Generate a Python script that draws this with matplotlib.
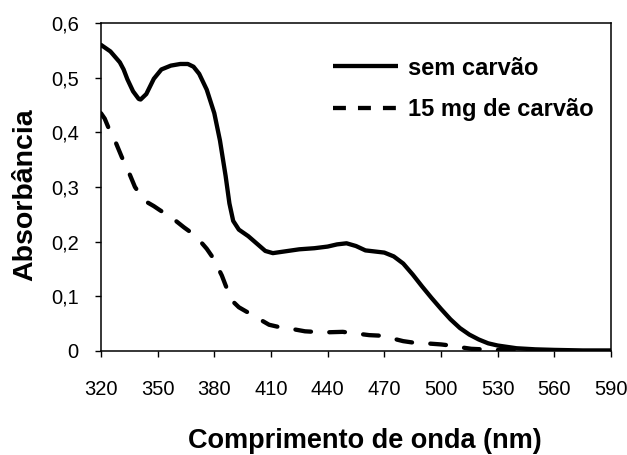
import matplotlib
matplotlib.use("Agg")
import matplotlib.pyplot as plt
from matplotlib.lines import Line2D
from matplotlib.ticker import FuncFormatter

plt.rcParams['font.family'] = ['Liberation Sans', 'DejaVu Sans']

# espectro sem carvão
nm_sem = [320, 325, 330, 332, 334, 337, 340, 341, 344, 348, 352, 357, 362, 366,
          369, 372, 376, 380, 383, 386, 388, 390, 393, 398, 403, 407, 411, 417,
          425, 433, 440, 445, 450, 455, 460, 465, 470, 475, 480, 485, 490, 495,
          500, 505, 510, 515, 520, 525, 530, 540, 550, 560, 575, 590]
abs_sem = [0.560, 0.548, 0.528, 0.515, 0.497, 0.475, 0.461, 0.460, 0.470, 0.498,
           0.515, 0.522, 0.525, 0.525, 0.520, 0.507, 0.478, 0.435, 0.385, 0.320,
           0.270, 0.238, 0.222, 0.210, 0.195, 0.183, 0.179, 0.182, 0.186, 0.188,
           0.191, 0.195, 0.197, 0.192, 0.184, 0.182, 0.180, 0.173, 0.160, 0.140,
           0.118, 0.097, 0.077, 0.058, 0.042, 0.030, 0.021, 0.014, 0.010, 0.005,
           0.003, 0.002, 0.001, 0.001]

# espectro com 15 mg de carvão
nm_15 = [320, 322, 325, 328, 331, 335, 338, 341, 344, 348, 351, 356, 360, 364,
         368, 372, 376, 379, 382, 384, 386, 388, 390, 393, 397, 401, 405, 409,
         414, 420, 428, 438, 448, 455, 462, 468, 473, 480, 486, 492, 500, 505,
         510, 516, 522, 530, 540, 545]
abs_15 = [0.435, 0.425, 0.400, 0.380, 0.355, 0.325, 0.300, 0.285, 0.273, 0.265,
          0.258, 0.247, 0.237, 0.226, 0.216, 0.203, 0.187, 0.172, 0.152, 0.138,
          0.120, 0.103, 0.090, 0.080, 0.072, 0.065, 0.056, 0.048, 0.044, 0.041,
          0.036, 0.034, 0.035, 0.032, 0.029, 0.028, 0.024, 0.018, 0.015, 0.014,
          0.012, 0.010, 0.007, 0.004, 0.003, 0.002, 0.001, 0.000]

xticks = [320, 350, 380, 410, 440, 470, 500, 530, 560, 590]
yticks = [0, 0.1, 0.2, 0.3, 0.4, 0.5, 0.6]

fig = plt.figure(figsize=(6.27, 4.55), dpi=100)
ax = fig.add_axes([0.161, 0.2286, 0.8135, 0.7209])

ax.plot(nm_sem, abs_sem, color='black', lw=3.1,
        solid_capstyle='round', solid_joinstyle='round')
ax.plot(nm_15, abs_15, color='black', lw=3.1, linestyle=(0, (3.65, 4.25)),
        dash_capstyle='round')

ax.set_xlim(320, 590)
ax.set_ylim(0, 0.6)
ax.set_xticks(xticks)
ax.set_yticks(yticks)
ax.yaxis.set_major_formatter(FuncFormatter(
    lambda v, p: '0' if v == 0 else f'{v:.1f}'.replace('.', ',')))
ax.tick_params(direction='out', length=4.5, width=1, labelsize=14.5)
ax.tick_params(axis='y', pad=11.5)
ax.tick_params(axis='x', pad=16.5)
for s in ax.spines.values():
    s.set_linewidth(1.1)

ax.set_xlabel('Comprimento de onda (nm)', fontsize=19.5, fontweight='bold',
              labelpad=20.5)
ax.xaxis.label.set_x(0.518)
ax.set_ylabel('Absorbância', fontsize=20.5, fontweight='bold')
ax.yaxis.set_label_coords(-0.123, 0.477)

# legenda com traços mais curtos que os da curva
handles = [Line2D([], [], color='black', lw=3.1, solid_capstyle='butt'),
           Line2D([], [], color='black', lw=3.1, linestyle=(0, (3.0, 2.8)),
                  dash_capstyle='butt')]
ax.legend(handles, ['sem carvão', '15 mg de carvão'], loc='upper left',
          bbox_to_anchor=(0.455, 0.897), frameon=False,
          prop={'size': 17, 'weight': 'bold'}, handlelength=2.76,
          handletextpad=0.42, labelspacing=0.78, borderpad=0, borderaxespad=0)

fig.savefig('out.png', dpi=100)
